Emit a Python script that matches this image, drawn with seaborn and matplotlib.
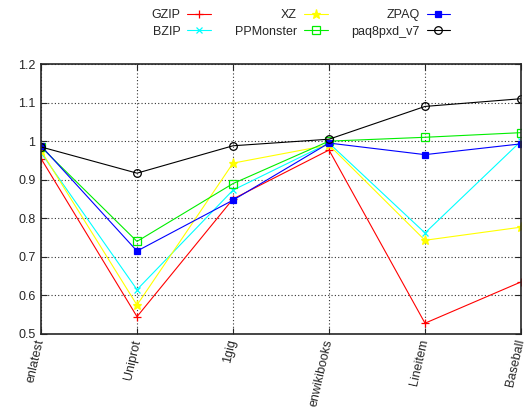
import pandas as pd
import matplotlib
matplotlib.use("Agg")
import matplotlib.pyplot as plt
import matplotlib.transforms as mtransforms
import seaborn as sns

datasets = ["enlatest", "Uniprot", "1gig", "enwikibooks", "Lineitem", "Baseball"]

gzip = [0.955, 0.545, 0.850, 0.977, 0.528, 0.635]
bzip = [0.970, 0.615, 0.873, 0.995, 0.762, 1.000]
xz = [0.975, 0.575, 0.943, 0.990, 0.743, 0.777]
ppmonster = [0.985, 0.740, 0.890, 1.000, 1.010, 1.022]
zpaq = [0.988, 0.715, 0.847, 0.995, 0.965, 0.993]
paq8 = [0.985, 0.917, 0.988, 1.005, 1.090, 1.110]

series = {
    "GZIP": gzip,
    "BZIP": bzip,
    "XZ": xz,
    "PPMonster": ppmonster,
    "ZPAQ": zpaq,
    "paq8pxd_v7": paq8,
}

estilos = {
    "GZIP": dict(color="#ff0000", marker="+", markersize=6, markerfacecolor="#ff0000"),
    "BZIP": dict(color="#00ffff", marker="x", markersize=4.5, markerfacecolor="#00ffff"),
    "XZ": dict(color="#ffff00", marker="*", markersize=6.5, markerfacecolor="#ffff00"),
    "PPMonster": dict(color="#00ee00", marker="s", markersize=5.5, markerfacecolor="none"),
    "ZPAQ": dict(color="#0000ff", marker="s", markersize=4.5, markerfacecolor="#0000ff"),
    "paq8pxd_v7": dict(color="#000000", marker="o", markersize=5.5, markerfacecolor="none"),
}


def main():
    sns.set_style("ticks")
    plt.rcParams["font.family"] = ["Liberation Sans", "DejaVu Sans"]

    fig = plt.figure(figsize=(5.26, 4.16), dpi=100)
    ax = fig.add_axes([41 / 526, 1 - 334 / 416, (521 - 41) / 526, (334 - 64) / 416])

    for nome, valores in series.items():
        df = pd.DataFrame({"x": range(len(datasets)), "y": valores})
        st = estilos[nome]
        sns.lineplot(
            data=df, x="x", y="y", ax=ax, label=nome,
            color=st["color"], marker=st["marker"], markersize=st["markersize"],
            markerfacecolor=st["markerfacecolor"], markeredgecolor=st["color"],
            markeredgewidth=0.9, linewidth=0.8,
        )

    ax.set_xlim(0, len(datasets) - 1)
    ax.set_ylim(0.5, 1.2)
    ax.set_yticks([0.5, 0.6, 0.7, 0.8, 0.9, 1.0, 1.1, 1.2])
    ax.set_yticklabels(["0.5", "0.6", "0.7", "0.8", "0.9", "1", "1.1", "1.2"], fontsize=9)
    ax.set_xticks(range(len(datasets)))
    ax.set_xticklabels(datasets, rotation=77, ha="right", va="center",
                       rotation_mode="anchor", fontsize=9)
    desloc = mtransforms.ScaledTranslation(-6 / 100, -3 / 100, fig.dpi_scale_trans)
    for lbl in ax.get_xticklabels():
        lbl.set_transform(lbl.get_transform() + desloc)
    ax.set_xlabel("")
    ax.set_ylabel("")
    ax.grid(True, linestyle=(0, (1, 2)), color="black", linewidth=0.8, alpha=0.8)
    ax.tick_params(direction="in", length=4, top=True, right=True, pad=4)
    for s in ax.spines.values():
        s.set_linewidth(1.2)

    ax.get_legend().remove()
    handles, labels = ax.get_legend_handles_labels()
    fig.legend(handles, labels, ncol=3, loc="upper center", bbox_to_anchor=(0.572, 1.005),
               frameon=False, markerfirst=False, fontsize=9, handlelength=1.9,
               columnspacing=1.9, labelspacing=0.35, handletextpad=0.55)

    fig.savefig("out.png", dpi=100)
    plt.close(fig)


if __name__ == "__main__":
    main()
